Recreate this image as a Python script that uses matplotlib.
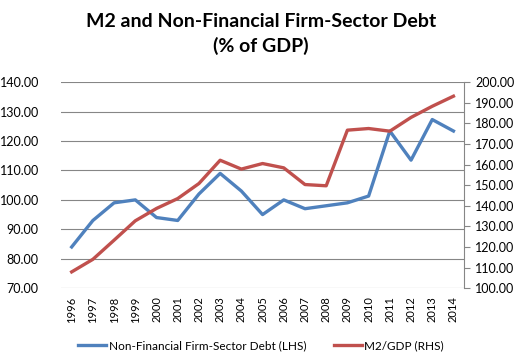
import matplotlib.pyplot as plt

years = [str(y) for y in range(1996, 2015)]
debt = [84, 93, 99, 100, 94, 93, 102, 109, 103, 95, 100, 97, 98, 99, 101.3, 123.4, 113.5, 127.3, 123.4]
m2 = [107.9, 114, 123.3, 132.7, 138.7, 143.5, 150.8, 162.1, 157.8, 160.5, 158.4, 150.3, 149.7,
      176.7, 177.5, 176.2, 182.9, 188.3, 193.2]

plt.rcParams['font.family'] = ['Lato', 'DejaVu Sans']

fig = plt.figure(figsize=(5.22, 3.62), dpi=100)
ax = fig.add_axes([0.117, 0.204, 0.772, 0.569])
ax2 = ax.twinx()

x = list(range(len(years)))
l1, = ax.plot(x, debt, color='#4F81BD', lw=2.4, label='Non-Financial Firm-Sector Debt (LHS)')
l2, = ax2.plot(x, m2, color='#C0504D', lw=2.4, label='M2/GDP (RHS)')

ax.set_xlim(-0.5, len(years) - 0.5)
ax.set_ylim(70, 140)
ax2.set_ylim(100, 200)
ax.set_yticks(range(70, 141, 10))
ax2.set_yticks(range(100, 201, 10))
ax.set_yticklabels([f'{v:.2f}' for v in range(70, 141, 10)], fontsize=9)
ax2.set_yticklabels([f'{v:.2f}' for v in range(100, 201, 10)], fontsize=9)
ax.set_xticks(x)
ax.set_xticklabels(years, rotation=90, fontsize=8)

ax.grid(axis='y', color='#868686', lw=0.8)
ax.set_axisbelow(True)
for a in (ax, ax2):
    for s in ('top', 'left', 'bottom', 'right'):
        a.spines[s].set_visible(False)
ax2.spines['right'].set_visible(True)
ax2.spines['right'].set_color('#868686')
ax.tick_params(axis='y', length=0, pad=16)
ax.tick_params(axis='x', length=0, pad=6)
ax2.tick_params(axis='y', length=4, color='#868686', pad=4)

fig.suptitle('M2 and Non-Financial Firm-Sector Debt\n(% of GDP)', fontsize=14, fontweight='bold',
             y=0.965, linespacing=1.45)
fig.legend(handles=[l1, l2], loc='lower center', bbox_to_anchor=(0.5, 0.0), ncol=2,
           frameon=False, fontsize=8.5, handlelength=2.4, handletextpad=0.2, columnspacing=2.3)

fig.savefig('out.png', dpi=100)
